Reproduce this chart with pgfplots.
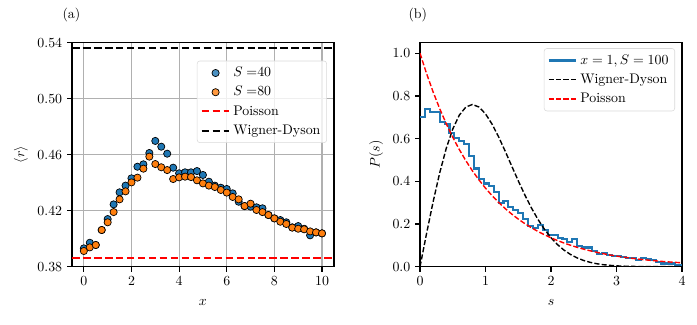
\documentclass[border=0pt]{standalone}
\usepackage{pgfplots}
\pgfplotsset{compat=1.18}

\definecolor{tabblue}{HTML}{1F77B4}
\definecolor{taborange}{HTML}{FF7F0E}
\definecolor{gridgray}{HTML}{B0B0B0}

\pgfplotsset{
  panel/.style={
    scale only axis, width=188.6pt, height=161.3pt,
    axis line style={line width=0.9pt},
    tick align=outside, major tick length=3.5pt,
    tick style={black, line width=0.8pt},
    xtick pos=left, ytick pos=left,
    xlabel style={yshift=-3pt},
    legend cell align=left,
    legend style={draw=black!15, rounded corners=2pt, fill=white,
      fill opacity=0.8, text opacity=1, font=\normalsize,
      inner sep=2.5pt, row sep=1.5pt},
    legend image code/.code={\draw[#1, sharp plot] (0pt,0pt) -- (20pt,0pt);},
  },
  dotlegend/.style={legend image code/.code={\draw[#1] plot coordinates {(10pt,0pt)};}},
}

% <r> versus x, two system sizes
\pgfplotstableread{
x      r40     r80
0.00   0.3931  0.3912
0.25   0.3971  0.3938
0.50   0.3955  0.3955
0.75   0.4062  0.4062
1.00   0.4140  0.4117
1.25   0.4245  0.4190
1.50   0.4331  0.4281
1.75   0.4379  0.4338
2.00   0.4431  0.4402
2.25   0.4514  0.4436
2.50   0.4531  0.4500
2.75   0.4612  0.4586
3.00   0.4698  0.4533
3.25   0.4657  0.4510
3.50   0.4607  0.4490
3.75   0.4507  0.4426
4.00   0.4467  0.4438
4.25   0.4474  0.4443
4.50   0.4474  0.4440
4.75   0.4483  0.4417
5.00   0.4455  0.4395
5.25   0.4407  0.4379
5.50   0.4379  0.4369
5.75   0.4364  0.4348
6.00   0.4355  0.4329
6.25   0.4324  0.4298
6.50   0.4264  0.4281
6.75   0.4233  0.4233
7.00   0.4229  0.4250
7.25   0.4224  0.4205
7.50   0.4217  0.4190
7.75   0.4169  0.4169
8.00   0.4145  0.4145
8.25   0.4133  0.4121
8.50   0.4117  0.4105
8.75   0.4081  0.4079
9.00   0.4090  0.4071
9.25   0.4071  0.4067
9.50   0.4024  0.4052
9.75   0.4045  0.4045
10.00  0.4038  0.4038
}\rdata

% level spacing histogram (left bin edges)
\pgfplotstableread{
s      p
0.000  0.700
0.075  0.740
0.150  0.725
0.225  0.725
0.300  0.680
0.375  0.670
0.450  0.625
0.525  0.605
0.600  0.590
0.675  0.573
0.750  0.520
0.825  0.460
0.900  0.410
0.975  0.390
1.050  0.380
1.125  0.350
1.200  0.300
1.275  0.310
1.350  0.280
1.425  0.265
1.500  0.250
1.575  0.225
1.650  0.190
1.725  0.180
1.800  0.195
1.875  0.170
1.950  0.150
2.025  0.150
2.100  0.135
2.175  0.130
2.250  0.115
2.325  0.130
2.400  0.095
2.475  0.090
2.550  0.090
2.625  0.075
2.700  0.060
2.775  0.065
2.850  0.055
2.925  0.050
3.000  0.050
3.075  0.045
3.150  0.040
3.225  0.040
3.300  0.030
3.375  0.040
3.450  0.035
3.525  0.030
3.600  0.020
3.675  0.015
3.750  0.015
3.825  0.015
3.900  0.010
3.975  0.010
4.050  0.010
}\hist

\pgfplotstableread{
s    wd      poi
0.0  0.0000  1.0000
0.1  0.1559  0.9048
0.2  0.3044  0.8187
0.3  0.4391  0.7408
0.4  0.5541  0.6703
0.5  0.6454  0.6065
0.6  0.7104  0.5488
0.7  0.7483  0.4966
0.8  0.7602  0.4493
0.9  0.7483  0.4066
1.0  0.7162  0.3679
1.1  0.6680  0.3329
1.2  0.6083  0.3012
1.3  0.5415  0.2725
1.4  0.4717  0.2466
1.5  0.4024  0.2231
1.6  0.3365  0.2019
1.7  0.2759  0.1827
1.8  0.2219  0.1653
1.9  0.1752  0.1496
2.0  0.1358  0.1353
2.1  0.1033  0.1225
2.2  0.0772  0.1108
2.3  0.0567  0.1003
2.4  0.0409  0.0907
2.5  0.0290  0.0821
2.6  0.0202  0.0743
2.7  0.0138  0.0672
2.8  0.0093  0.0608
2.9  0.0062  0.0550
3.0  0.0040  0.0498
3.1  0.0025  0.0450
3.2  0.0016  0.0408
3.3  0.0010  0.0369
3.4  0.0006  0.0334
3.5  0.0004  0.0302
3.6  0.0002  0.0273
3.7  0.0001  0.0247
3.8  0.0001  0.0224
3.9  0.0000  0.0202
4.0  0.0000  0.0183
}\curves

\begin{document}
\begin{tikzpicture}
\path[use as bounding box] (-51.8pt,-41.3pt) rectangle (450pt,192pt);

\begin{axis}[panel, at={(0,0)}, anchor=south west,
    xmin=-0.5, xmax=10.5, ymin=0.38, ymax=0.54,
    xtick={0,2,4,6,8,10},
    ytick={0.38,0.42,0.46,0.50,0.54},
    yticklabel style={/pgf/number format/.cd, fixed, fixed zerofill, precision=2},
    grid=major, major grid style={gridgray, line width=0.8pt},
    xlabel={$x$}, ylabel={$\langle r\rangle$},
    legend style={at={(rel axis cs:1,1)}, anchor=north east, xshift=-5pt, yshift=-13pt},
  ]
  \addplot[only marks, mark=*, mark size=2.6pt, dotlegend,
    mark options={fill=tabblue, draw=black, line width=0.5pt}]
    table[x=x, y=r40] {\rdata};
  \addlegendentry{$S=$40}
  \addplot[only marks, mark=*, mark size=2.6pt, dotlegend,
    mark options={fill=taborange, draw=black, line width=0.5pt}]
    table[x=x, y=r80] {\rdata};
  \addlegendentry{$S=$80}
  \addplot[red, line width=1.5pt, dash pattern=on 5.5pt off 2.4pt]
    coordinates {(-0.5,0.3863) (10.5,0.3863)};
  \addlegendentry{Poisson}
  \addplot[black, line width=1.5pt, dash pattern=on 5.5pt off 2.4pt]
    coordinates {(-0.5,0.5359) (10.5,0.5359)};
  \addlegendentry{Wigner-Dyson}
\end{axis}

\begin{axis}[panel, at={(250.6pt,0)}, anchor=south west,
    xmin=0, xmax=4, ymin=0, ymax=1.05,
    xtick={0,1,2,3,4},
    ytick={0,0.2,0.4,0.6,0.8,1.0},
    yticklabel style={/pgf/number format/.cd, fixed, fixed zerofill, precision=1},
    xlabel={$s$}, ylabel={$P(s)$},
    legend style={at={(rel axis cs:1,1)}, anchor=north east, xshift=-5pt, yshift=-4pt},
  ]
  \addplot[tabblue, line width=1.5pt, const plot mark left]
    table[x=s, y=p] {\hist};
  \addlegendentry{$x=1, S=100$}
  \addplot[black, line width=1pt, dash pattern=on 3.7pt off 1.6pt]
    table[x=s, y=wd] {\curves};
  \addlegendentry{Wigner-Dyson}
  \addplot[red, line width=1pt, dash pattern=on 3.7pt off 1.6pt]
    table[x=s, y=poi] {\curves};
  \addlegendentry{Poisson}
\end{axis}

\node at (-0.4pt,181pt) {(a)};
\node at (249pt,181pt) {(b)};
\end{tikzpicture}
\end{document}
